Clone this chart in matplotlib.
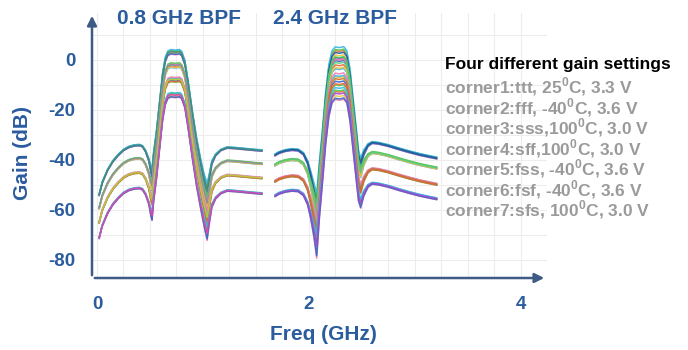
import matplotlib
matplotlib.use("Agg")
import matplotlib.pyplot as plt
import numpy as np

plt.rcParams['font.family'] = ['Liberation Sans', 'DejaVu Sans']
plt.rcParams['mathtext.fontset'] = 'custom'
plt.rcParams['mathtext.bf'] = 'Liberation Sans:bold'
plt.rcParams['mathtext.rm'] = 'Liberation Sans:bold'
plt.rcParams['axes.unicode_minus'] = False

# 0.8 GHz band: frequency (GHz), gain of highest gain setting (dB), corner spread (dB)
b1_freq = [0.02, 0.05, 0.10, 0.15, 0.20, 0.25, 0.30, 0.35, 0.40, 0.43, 0.46, 0.49, 0.51, 0.52,
           0.535, 0.56, 0.59, 0.62, 0.645, 0.67, 0.70, 0.74, 0.78, 0.80, 0.83, 0.86, 0.90, 0.94,
           0.98, 1.01, 1.04, 1.06, 1.085, 1.12, 1.17, 1.23, 1.30, 1.40, 1.50, 1.56]
b1_gain = [-54, -49, -44, -40.5, -38, -36, -34.8, -34.2, -34, -34.5, -36.5, -40, -44, -45,
           -38, -30, -18, -6, 0.2, 2.8, 3.3, 3.1, 3.3, 2.6, -1, -9, -21, -32,
           -41, -47, -52, -47, -41, -38, -36, -35, -35.2, -35.6, -36, -36.2]
b1_spread = [0.3, 0.3, 0.3, 0.3, 0.3, 0.3, 0.3, 0.3, 0.3, 0.3, 0.4, 0.6, 1.5, 2.0,
             1.5, 1.2, 1.0, 1.0, 1.0, 1.0, 1.0, 1.0, 1.0, 1.0, 1.0, 1.0, 1.0, 1.2,
             1.5, 2.0, 3.0, 1.5, 0.8, 0.4, 0.3, 0.3, 0.3, 0.3, 0.3, 0.3]
b1_shift = [0, -5.3, -11, -17.2]
b1_colors = ['#3f8a7c', '#8e8ea6', '#b9cc33', '#e040b6']

# 2.4 GHz band
b2_freq = [1.68, 1.72, 1.78, 1.84, 1.90, 1.95, 1.99, 2.02, 2.05, 2.075, 2.10, 2.13, 2.16, 2.19,
           2.22, 2.25, 2.29, 2.33, 2.36, 2.39, 2.42, 2.45, 2.47, 2.49, 2.52, 2.56, 2.60, 2.66,
           2.75, 2.85, 2.95, 3.05, 3.15, 3.21]
b2_gain = [-38, -37, -36.2, -35.8, -36, -37.5, -41, -46, -52, -58, -44, -30, -15, -4,
           1.5, 3.0, 2.7, 3.1, 1.5, -6, -18, -30, -38, -41, -37, -34, -33, -33.3,
           -34.2, -35.5, -36.7, -37.8, -38.7, -39.2]
b2_spread = [0.4, 0.4, 0.4, 0.4, 0.4, 0.5, 0.8, 1.5, 3.0, 5.0, 3.5, 2.8, 2.5, 2.5,
             2.5, 2.5, 2.5, 2.5, 2.5, 2.5, 2.5, 2.5, 2.2, 2.0, 1.2, 0.6, 0.4, 0.4,
             0.4, 0.4, 0.4, 0.4, 0.4, 0.4]
b2_shift = [0, -4, -10.5, -16.3]
b2_colors = ['#1f5896', '#52d07e', '#d0702e', '#a245d6']

# relative deviation of the seven corners, corner 1 (ttt) drawn last
corner_dev = [0.0, 0.9, -0.8, 0.5, -0.4, -1.0, 0.3]
corner_colors = ['#39b4e6', '#3366cc', '#55cc55', '#e8c547', '#f07cb0', '#ee6633']

corner_text = ["corner1:ttt, 25$^{\\mathbf{0}}$C, 3.3 V",
               "corner2:fff, -40$^{\\mathbf{0}}$C, 3.6 V",
               "corner3:sss,100$^{\\mathbf{0}}$C, 3.0 V",
               "corner4:sff,100$^{\\mathbf{0}}$C, 3.0 V",
               "corner5:fss, -40$^{\\mathbf{0}}$C, 3.6 V",
               "corner6:fsf, -40$^{\\mathbf{0}}$C, 3.6 V",
               "corner7:sfs, 100$^{\\mathbf{0}}$C, 3.0 V"]

blue = '#2b5c9e'
axis_col = '#3d5b84'

fig = plt.figure(figsize=(6.88, 3.5), dpi=100)
ax = fig.add_axes([92 / 688, 72 / 350, 455 / 688, 265 / 350])

for freq, gain, spread, shift, top_cols in [(b1_freq, b1_gain, b1_spread, b1_shift, b1_colors),
                                             (b2_freq, b2_gain, b2_spread, b2_shift, b2_colors)]:
    f = np.array(freq)
    g0 = np.array(gain)
    sp = np.array(spread)
    for gi in range(4):
        for ci in range(6, -1, -1):
            y = g0 + shift[gi] + corner_dev[ci] * sp
            if ci == 0:
                col = top_cols[gi]
            else:
                col = corner_colors[(ci - 1 + gi * 2) % 6]
            ax.plot(f, y, color=col, lw=1.1, alpha=0.9, solid_capstyle='round')

ax.set_xlim(-0.047, 4.245)
ax.set_ylim(-87.2, 18.8)
ax.set_xticks([0, 2, 4])
ax.set_yticks([0, -20, -40, -60, -80])
ax.set_xticks(np.arange(0, 4.3, 0.25), minor=True)
ax.set_yticks(np.arange(-80, 15, 10), minor=True)
ax.grid(which='both', color='#ededed', lw=0.8)
ax.set_axisbelow(True)
ax.tick_params(which='both', length=0)
ax.tick_params(axis='x', pad=13)
ax.tick_params(axis='y', pad=12)
for lab in ax.get_xticklabels() + ax.get_yticklabels():
    lab.set_fontsize(13.5)
    lab.set_fontweight('bold')
    lab.set_color(blue)
for s in ax.spines.values():
    s.set_visible(False)

ax.annotate('', xy=(0, 1), xytext=(0, 0), xycoords='axes fraction',
            arrowprops=dict(arrowstyle='-|>', color=axis_col, lw=1.8, mutation_scale=14))
ax.annotate('', xy=(1, 0), xytext=(0, 0), xycoords='axes fraction',
            arrowprops=dict(arrowstyle='-|>', color=axis_col, lw=1.8, mutation_scale=14))

ax.set_xlabel('Freq (GHz)', fontsize=15, fontweight='bold', color=blue)
ax.xaxis.set_label_coords(0.508, -0.177)
ax.set_ylabel('Gain (dB)', fontsize=15, fontweight='bold', color=blue, va='center')
ax.yaxis.set_label_coords(-0.152, 0.472)

fig.text(117 / 688, 1 - 18 / 350, '0.8 GHz BPF', fontsize=15, fontweight='bold',
         color=blue, ha='left', va='center')
fig.text(273 / 688, 1 - 18 / 350, '2.4 GHz BPF', fontsize=15, fontweight='bold',
         color=blue, ha='left', va='center')

fig.text(445 / 688, 1 - 65 / 350, 'Four different gain settings', fontsize=12.5,
         fontweight='bold', color='black', ha='left', va='center')
for i, t in enumerate(corner_text):
    fig.text(445 / 688, 1 - (87 + 20.5 * i) / 350, t, fontsize=12.5, fontweight='bold',
             color='#9a9a9a', ha='left', va='center')

fig.savefig('out.png', dpi=100)
